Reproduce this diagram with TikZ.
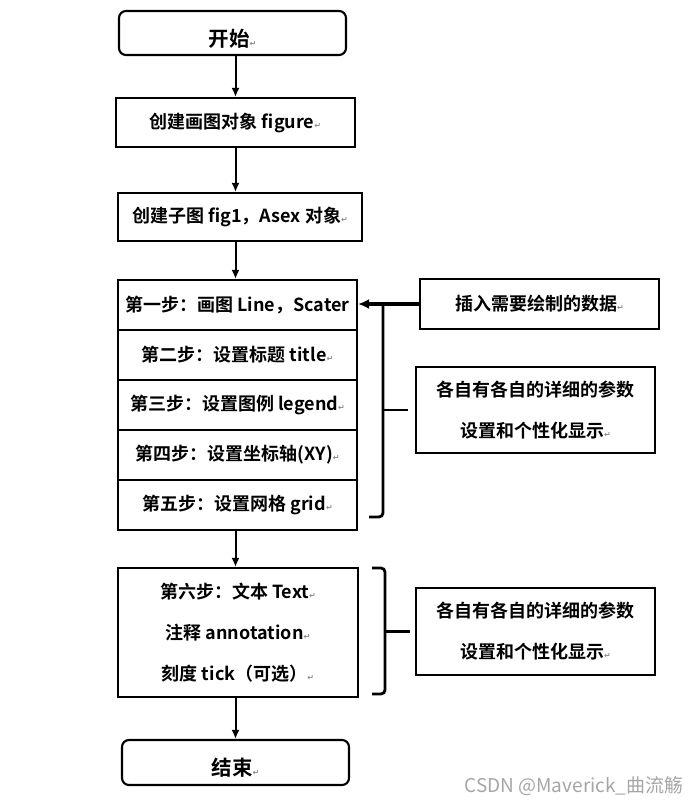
\documentclass[tikz,border=0pt]{standalone}
\usepackage{fontspec}
\setmainfont{Noto Sans CJK SC}[BoldFont={Noto Sans CJK SC Bold}]
\newfontfamily\symfont{DejaVu Sans}
\usetikzlibrary{arrows.meta,positioning}

% paragraph mark left by the word processor
\newcommand{\pmark}{{\color{black!45}\symfont\fontsize{8}{8}\selectfont ↵}}

\tikzset{
  box/.style={draw, line width=2.1pt, inner sep=0pt, align=center,
    font=\bfseries\fontsize{18}{41}\selectfont},
  endbox/.style={box, rounded corners=7pt, text height=35pt, text depth=9pt,
    font=\bfseries\fontsize{20.5}{24}\selectfont},
  arr/.style={-{Latex[length=9pt,width=8pt]}, line width=2pt},
  bigarr/.style={-{Latex[length=11pt,width=10pt]}, line width=3.6pt},
  brace/.style={line width=2.8pt, rounded corners=4pt}
}

\begin{document}
\begin{tikzpicture}[x=1pt,y=-1pt]
  \useasboundingbox (0,0) rectangle (699,804);

  % main column
  \node[endbox, minimum width=227, minimum height=44] (start) at (232.5,33) {开始\pmark};
  \node[box, minimum width=239, minimum height=49] (fig) at (235.5,122.5) {创建画图对象 figure\pmark};
  \node[box, minimum width=244, minimum height=48] (sub) at (240,217) {创建子图 fig1，Asex 对象\pmark};

  \node[box, minimum width=239, minimum height=50] (s1) at (237.5,305) {第一步：画图 Line，Scater};
  \node[box, minimum width=239, minimum height=50] (s2) at (237.5,355) {第二步：设置标题 title\pmark};
  \node[box, minimum width=239, minimum height=50] (s3) at (237.5,405) {第三步：设置图例 legend\pmark};
  \node[box, minimum width=239, minimum height=50] (s4) at (237.5,455) {第四步：设置坐标轴(XY)\pmark};
  \node[box, minimum width=239, minimum height=50] (s5) at (237.5,505) {第五步：设置网格 grid\pmark};

  \node[box, minimum width=240, minimum height=129] (s6) at (238,632.5)
    {第六步：文本 Text\pmark\\注释 annotation\pmark\\刻度 tick（可选）\pmark};

  \node[endbox, minimum width=227, minimum height=45] (end) at (235.5,762.5) {结束\pmark};

  % right column
  \node[box, minimum width=239, minimum height=50] (ins) at (539.5,304) {插入需要绘制的数据\pmark};
  \node[box, minimum width=239, minimum height=86] (p1) at (535.5,410)
    {各自有各自的详细的参数\\设置和个性化显示\pmark};
  \node[box, minimum width=239, minimum height=87] (p2) at (535.5,631.5)
    {各自有各自的详细的参数\\设置和个性化显示\pmark};

  % flow
  \draw[arr] (start.south -| fig) -- (fig.north);
  \draw[arr] (fig.south) -- (fig.south |- sub.north);
  \draw[arr] (sub.south -| fig) -- (fig |- s1.north);
  \draw[arr] (s5.south -| fig) -- (fig |- s6.north);
  \draw[arr] (s6.south -| fig) -- (end.north);
  \draw[bigarr] (ins.west) -- (ins.west -| s1.east);

  % braces
  \coordinate (b1top) at (383,304);
  \coordinate (b1mid) at (383,410);
  \coordinate (b1end) at (369,517);
  \draw[brace] (b1top) |- (b1end);
  \draw[line width=2.8pt, shorten >=7pt] (b1mid) -- (p1.west);

  \coordinate (b2top) at (372,568);
  \coordinate (b2mid) at (385,631.5);
  \coordinate (b2end) at (372,694);
  \draw[brace] (b2top) -| (b2mid) |- (b2end);
  \draw[line width=2.8pt, shorten >=5pt] (b2mid) -- (p2.west);

  % watermark
  \node[text=black!35, font=\fontsize{19}{19}\selectfont] (mark) at (574,786) {CSDN @Maverick\_曲流觞};
\end{tikzpicture}
\end{document}
